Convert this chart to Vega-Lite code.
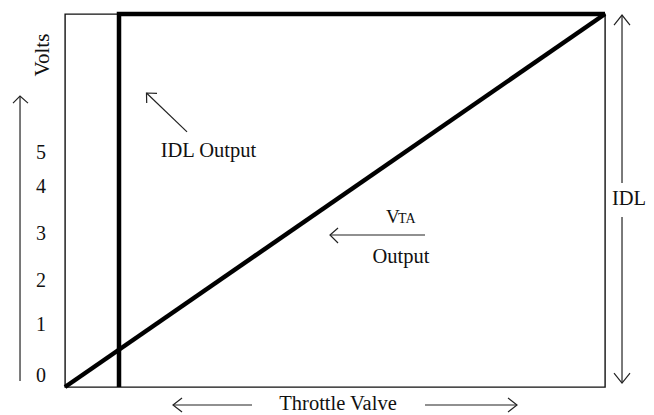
{
  "$schema": "https://vega.github.io/schema/vega-lite/v6.json",
  "width": 540,
  "height": 373,
  "autosize": "none",
  "padding": {"left": 65, "top": 14, "right": 49, "bottom": 28},
  "background": "white",
  "config": {
    "view": {"stroke": "#111", "strokeWidth": 1.4},
    "text": {"font": "Liberation Serif", "fill": "#111"}
  },
  "datasets": {
    "thin": [
      {"seg": "up", "ord": 1, "x": -8.33, "y": 1.61},
      {"seg": "up", "ord": 2, "x": -8.33, "y": 78.0},
      {"seg": "upHead", "ord": 1, "x": -9.63, "y": 76.1},
      {"seg": "upHead", "ord": 2, "x": -8.33, "y": 78.0},
      {"seg": "upHead", "ord": 3, "x": -6.85, "y": 76.1},
      {"seg": "idl", "ord": 1, "x": 22.6, "y": 68.4},
      {"seg": "idl", "ord": 2, "x": 15.09, "y": 78.82},
      {"seg": "idlHead", "ord": 1, "x": 17.04, "y": 78.74},
      {"seg": "idlHead", "ord": 2, "x": 15.09, "y": 78.82},
      {"seg": "idlHead", "ord": 3, "x": 15.13, "y": 76.14},
      {"seg": "vta", "ord": 1, "x": 66.67, "y": 40.75},
      {"seg": "vta", "ord": 2, "x": 49.07, "y": 40.75},
      {"seg": "vtaHead", "ord": 1, "x": 50.56, "y": 42.63},
      {"seg": "vtaHead", "ord": 2, "x": 49.07, "y": 40.75},
      {"seg": "vtaHead", "ord": 3, "x": 50.56, "y": 38.6},
      {"seg": "rTop", "ord": 1, "x": 103.15, "y": 99.73},
      {"seg": "rTop", "ord": 2, "x": 103.15, "y": 54.69},
      {"seg": "rTopHead", "ord": 1, "x": 101.67, "y": 97.05},
      {"seg": "rTopHead", "ord": 2, "x": 103.15, "y": 99.73},
      {"seg": "rTopHead", "ord": 3, "x": 104.63, "y": 97.05},
      {"seg": "rBot", "ord": 1, "x": 103.15, "y": 45.58},
      {"seg": "rBot", "ord": 2, "x": 103.15, "y": 1.07},
      {"seg": "rBotHead", "ord": 1, "x": 101.67, "y": 3.75},
      {"seg": "rBotHead", "ord": 2, "x": 103.15, "y": 1.07},
      {"seg": "rBotHead", "ord": 3, "x": 104.63, "y": 3.75},
      {"seg": "tvL", "ord": 1, "x": 34.63, "y": -4.83},
      {"seg": "tvL", "ord": 2, "x": 20.0, "y": -4.83},
      {"seg": "tvLHead", "ord": 1, "x": 21.67, "y": -2.95},
      {"seg": "tvLHead", "ord": 2, "x": 20.0, "y": -4.83},
      {"seg": "tvLHead", "ord": 3, "x": 21.67, "y": -6.7},
      {"seg": "tvR", "ord": 1, "x": 66.67, "y": -4.83},
      {"seg": "tvR", "ord": 2, "x": 83.7, "y": -4.83},
      {"seg": "tvRHead", "ord": 1, "x": 82.04, "y": -2.95},
      {"seg": "tvRHead", "ord": 2, "x": 83.7, "y": -4.83},
      {"seg": "tvRHead", "ord": 3, "x": 82.04, "y": -6.7}
    ],
    "thick": [
      {"seg": "IDL Output", "ord": 1, "x": 10, "y": 0},
      {"seg": "IDL Output", "ord": 2, "x": 10, "y": 100},
      {"seg": "IDL Output", "ord": 3, "x": 100, "y": 100},
      {"seg": "VTA Output", "ord": 1, "x": 0, "y": 0},
      {"seg": "VTA Output", "ord": 2, "x": 100, "y": 100}
    ],
    "labels": [
      {"label": "IDL Output", "x": 26.57, "y": 61.66},
      {"label": "Output", "x": 62.22, "y": 33.24},
      {"label": "IDL", "x": 104.44, "y": 48.79},
      {"label": "Throttle Valve", "x": 50.56, "y": -6.1}
    ],
    "digits": [
      {"label": "5", "x": -4.44, "y": 61.26},
      {"label": "4", "x": -4.44, "y": 52.14},
      {"label": "3", "x": -4.44, "y": 39.28},
      {"label": "2", "x": -4.44, "y": 26.94},
      {"label": "1", "x": -4.44, "y": 14.88},
      {"label": "0", "x": -4.44, "y": 1.47}
    ],
    "vLabel": [{"label": "V", "x": 59.44, "y": 43.97}],
    "taLabel": [{"label": "TA", "x": 61.67, "y": 43.97}],
    "volts": [{"label": "Volts", "x": -4.07, "y": 89.0}]
  },
  "encoding": {
    "x": {"type": "quantitative", "scale": {"domain": [0, 100], "nice": false, "zero": false}, "axis": null},
    "y": {"type": "quantitative", "scale": {"domain": [0, 100], "nice": false, "zero": false}, "axis": null}
  },
  "layer": [
    {
      "data": {"name": "thin"},
      "mark": {"type": "line", "clip": false, "color": "#222", "strokeWidth": 1.2},
      "encoding": {
        "x": {"field": "x", "type": "quantitative"},
        "y": {"field": "y", "type": "quantitative"},
        "detail": {"field": "seg"},
        "order": {"field": "ord", "type": "quantitative"}
      }
    },
    {
      "data": {"name": "thick"},
      "mark": {"type": "line", "clip": false, "color": "#000", "strokeWidth": 4.5, "strokeJoin": "miter", "strokeCap": "butt"},
      "encoding": {
        "x": {"field": "x", "type": "quantitative"},
        "y": {"field": "y", "type": "quantitative"},
        "detail": {"field": "seg"},
        "order": {"field": "ord", "type": "quantitative"}
      }
    },
    {
      "data": {"name": "labels"},
      "mark": {"type": "text", "fontSize": 20.5, "align": "center", "baseline": "alphabetic"},
      "encoding": {
        "x": {"field": "x", "type": "quantitative"},
        "y": {"field": "y", "type": "quantitative"},
        "text": {"field": "label"}
      }
    },
    {
      "data": {"name": "digits"},
      "mark": {"type": "text", "fontSize": 20, "align": "center", "baseline": "alphabetic"},
      "encoding": {
        "x": {"field": "x", "type": "quantitative"},
        "y": {"field": "y", "type": "quantitative"},
        "text": {"field": "label"}
      }
    },
    {
      "data": {"name": "vLabel"},
      "mark": {"type": "text", "fontSize": 19, "align": "left", "baseline": "alphabetic"},
      "encoding": {
        "x": {"field": "x", "type": "quantitative"},
        "y": {"field": "y", "type": "quantitative"},
        "text": {"field": "label"}
      }
    },
    {
      "data": {"name": "taLabel"},
      "mark": {"type": "text", "fontSize": 14, "align": "left", "baseline": "alphabetic"},
      "encoding": {
        "x": {"field": "x", "type": "quantitative"},
        "y": {"field": "y", "type": "quantitative"},
        "text": {"field": "label"}
      }
    },
    {
      "data": {"name": "volts"},
      "mark": {"type": "text", "fontSize": 21, "align": "center", "baseline": "middle", "angle": 270},
      "encoding": {
        "x": {"field": "x", "type": "quantitative"},
        "y": {"field": "y", "type": "quantitative"},
        "text": {"field": "label"}
      }
    }
  ]
}
